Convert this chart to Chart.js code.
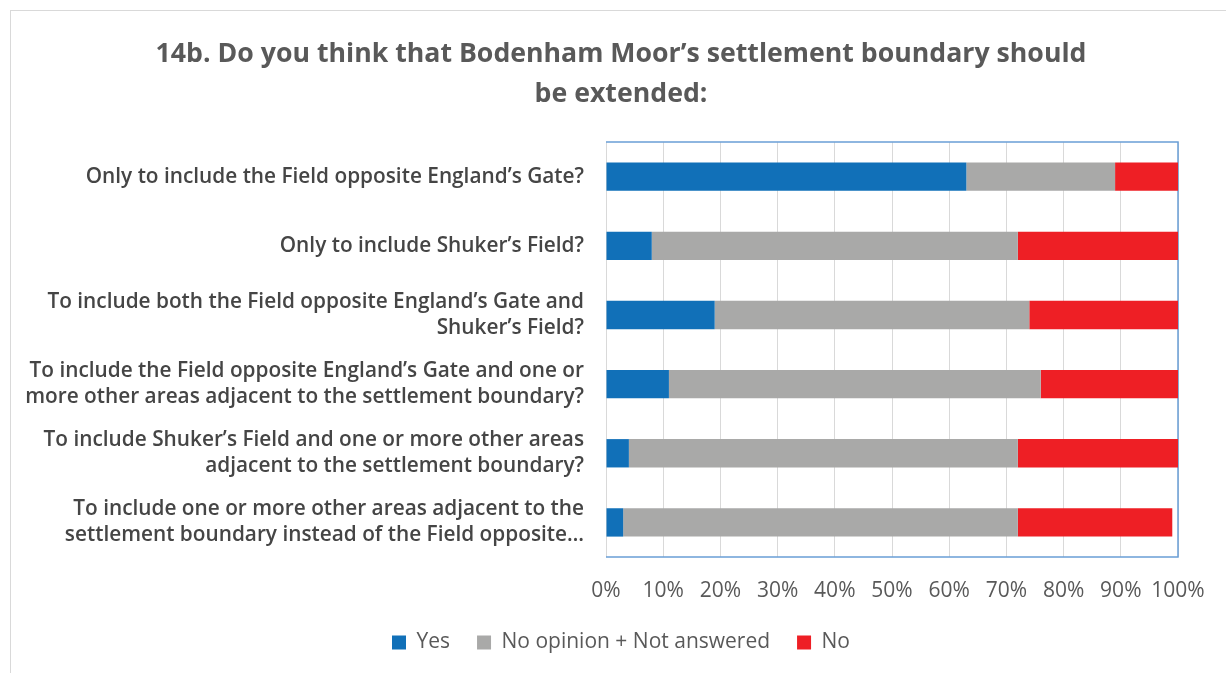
<!DOCTYPE html>
<html lang="en">
<head>
    <meta charset="UTF-8">
    <title>14b. Bodenham Moor settlement boundary</title>
    <script src="https://cdn.jsdelivr.net/npm/chart.js@4.4.0/dist/chart.umd.min.js"></script>
    <style>
        body {
            margin: 0;
            background: #ffffff;
        }
        .frame {
            position: absolute;
            left: 10px;
            top: 10px;
            width: 1226px;
            height: 673px;
            border-left: 1px solid #d9d9d9;
            border-top: 1px solid #d9d9d9;
        }
        .chart-box {
            position: absolute;
            left: 0;
            top: 0;
            width: 1226px;
            height: 673px;
        }
    </style>
</head>
<body>
    <div class="frame"></div>
    <div class="chart-box">
        <canvas id="boundaryChart"></canvas>
    </div>

    <script>
        const categories = [
            'Only to include the Field opposite England’s Gate?',
            'Only to include Shuker’s Field?',
            ['To include both the Field opposite England’s Gate and', 'Shuker’s Field?'],
            ['To include the Field opposite England’s Gate and one or', 'more other areas adjacent to the settlement boundary?'],
            ['To include Shuker’s Field and one or more other areas', 'adjacent to the settlement boundary?'],
            ['To include one or more other areas adjacent to the', 'settlement boundary instead of the Field opposite…']
        ];
        const yesValues = [63, 8, 19, 11, 4, 3];
        const noOpinionValues = [26, 64, 55, 65, 68, 69];
        const noValues = [11, 28, 26, 24.5, 28, 27];

        const titleLines = [
            '14b. Do you think that Bodenham Moor’s settlement boundary should',
            'be extended:'
        ];

        const FONT = '"Open Sans", Lato, sans-serif';

        // blue frame round the plot area (top, right, bottom)
        const plotFrame = {
            id: 'plotFrame',
            beforeDatasetsDraw(chart) {
                const { ctx, chartArea: a } = chart;
                ctx.save();
                ctx.strokeStyle = '#6a9fd6';
                ctx.lineWidth = 1.5;
                ctx.beginPath();
                ctx.moveTo(a.left, a.top);
                ctx.lineTo(a.right, a.top);
                ctx.lineTo(a.right, a.bottom);
                ctx.lineTo(a.left, a.bottom);
                ctx.stroke();
                ctx.restore();
            }
        };

        const ctx = document.getElementById('boundaryChart').getContext('2d');
        new Chart(ctx, {
            type: 'bar',
            data: {
                labels: categories,
                datasets: [
                    { label: 'Yes', data: yesValues, backgroundColor: '#1170b8' },
                    { label: 'No opinion + Not answered', data: noOpinionValues, backgroundColor: '#a9a9a8' },
                    { label: 'No', data: noValues, backgroundColor: '#ee1f25' }
                ]
            },
            options: {
                indexAxis: 'y',
                responsive: true,
                maintainAspectRatio: false,
                animation: false,
                datasets: {
                    bar: { barPercentage: 1, categoryPercentage: 0.41 }
                },
                layout: {
                    padding: { left: 16, right: 0, top: 0, bottom: 10 }
                },
                scales: {
                    x: {
                        stacked: true,
                        min: 0,
                        max: 100,
                        grid: { color: '#d9d9d9', drawTicks: false },
                        border: { display: false },
                        afterFit: scale => { scale.height = 48; },
                        ticks: {
                            stepSize: 10,
                            autoSkip: false,
                            maxRotation: 0,
                            minRotation: 0,
                            color: '#595959',
                            padding: 21,
                            font: { family: FONT, size: 21 },
                            callback: v => v + '%'
                        }
                    },
                    y: {
                        stacked: true,
                        grid: { display: false },
                        border: { display: false },
                        afterFit: scale => { scale.width = 590; },
                        ticks: {
                            color: '#454545',
                            padding: 14,
                            font: { family: FONT, size: 20.8, weight: '600', lineHeight: 1.25 }
                        }
                    },
                    // empty right-hand axis, only keeps space free beside the plot
                    yRight: {
                        position: 'right',
                        grid: { display: false },
                        border: { display: false },
                        ticks: { display: false },
                        afterFit: scale => { scale.width = 48; }
                    }
                },
                plugins: {
                    title: {
                        display: true,
                        text: titleLines,
                        color: '#595959',
                        font: { family: FONT, size: 26.7, weight: 'bold', lineHeight: 1.5 },
                        padding: { top: 34, bottom: 28 }
                    },
                    legend: {
                        position: 'bottom',
                        labels: {
                            color: '#595959',
                            boxWidth: 14,
                            boxHeight: 14,
                            padding: 27,
                            font: { family: FONT, size: 21 }
                        }
                    },
                    tooltip: { enabled: false }
                }
            },
            plugins: [plotFrame]
        });
    </script>
</body>
</html>
